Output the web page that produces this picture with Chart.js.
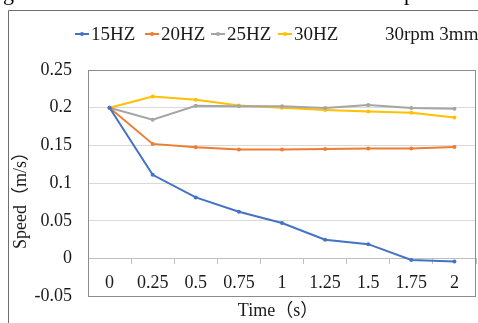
<!DOCTYPE html>
<html>
<head>
<meta charset="utf-8">
<script src="https://cdn.jsdelivr.net/npm/chart.js@4"></script>
<style>
html,body{margin:0;padding:0;background:#fff;}
#wrap{width:478px;height:323px;position:relative;}
</style>
</head>
<body>
<div id="wrap"><canvas id="c" width="478" height="323"></canvas></div>
<script>
const categories = ['0', '0.25', '0.5', '0.75', '1', '1.25', '1.5', '1.75', '2'];
const seriesNames = ['15HZ', '20HZ', '25HZ', '30HZ'];
const s15 = [0.200, 0.111, 0.081, 0.062, 0.047, 0.025, 0.019, -0.002, -0.004];
const s20 = [0.200, 0.152, 0.1475, 0.1445, 0.1445, 0.1453, 0.146, 0.146, 0.148];
const s25 = [0.200, 0.184, 0.2026, 0.202, 0.202, 0.1996, 0.2035, 0.1996, 0.1987];
const s30 = [0.200, 0.2149, 0.2105, 0.203, 0.200, 0.197, 0.195, 0.1934, 0.187];
const yTicks = [-0.05, 0, 0.05, 0.1, 0.15, 0.2, 0.25];
const yTitle = 'Speed（m/s）';
const xTitle = 'Time（s）';
const noteText = '30rpm 3mm';
const colors = ['#4472C4', '#ED7D31', '#A5A5A5', '#FFC000'];

const FONT = '"Liberation Serif", "Times New Roman", "Noto Sans CJK SC", serif';

const values = [s15, s20, s25, s30];
const datasets = values.map((v, i) => ({
  label: seriesNames[i],
  data: v,
  borderColor: colors[i],
  backgroundColor: colors[i],
  borderWidth: 2,
  pointRadius: 2,
  pointHoverRadius: 2,
  pointBorderWidth: 0,
  tension: 0,
  fill: false
}));

const decor = {
  id: 'decor',
  beforeDatasetsDraw(chart) {
    const ctx = chart.ctx, a = chart.chartArea;
    ctx.save();
    ctx.strokeStyle = '#8c8c8c';
    ctx.lineWidth = 1;
    ctx.strokeRect(Math.round(a.left) + 0.5, Math.round(a.top) + 0.5,
      Math.round(a.right) - Math.round(a.left) - 1, Math.round(a.bottom) - Math.round(a.top));
    ctx.restore();
  },
  afterDraw(chart) {
    const ctx = chart.ctx;
    ctx.save();
    // outer chart frame
    ctx.strokeStyle = '#6e6e6e';
    ctx.lineWidth = 1;
    ctx.beginPath();
    ctx.moveTo(8.5, 330);
    ctx.lineTo(8.5, 10.5);
    ctx.lineTo(490, 10.5);
    ctx.stroke();
    // caption fragments above the frame
    ctx.fillStyle = '#000';
    ctx.font = '22px ' + FONT;
    ctx.textBaseline = 'alphabetic';
    ctx.textAlign = 'left';
    ctx.fillText('g', 3, 0);
    ctx.fillText('p', 404, 0);
    // legend
    ctx.font = '19px ' + FONT;
    ctx.textBaseline = 'middle';
    const ly = 34;
    const starts = [75, 145, 211, 278];
    chart.data.datasets.forEach((ds, i) => {
      const x0 = starts[i];
      ctx.strokeStyle = ds.borderColor;
      ctx.lineWidth = 2;
      ctx.beginPath();
      ctx.moveTo(x0, ly);
      ctx.lineTo(x0 + 14, ly);
      ctx.stroke();
      ctx.fillStyle = ds.borderColor;
      ctx.beginPath();
      ctx.arc(x0 + 7, ly, 2, 0, Math.PI * 2);
      ctx.fill();
      ctx.fillStyle = '#1a1a1a';
      ctx.fillText(ds.label, x0 + 16, ly + 1);
    });
    ctx.fillText(noteText, 385, ly + 1);
    // axis titles
    ctx.font = '18px ' + FONT;
    ctx.fillStyle = '#1a1a1a';
    ctx.textAlign = 'center';
    ctx.fillText(xTitle, 278, 311);
    ctx.translate(21, 196);
    ctx.rotate(-Math.PI / 2);
    ctx.fillText(yTitle, 0, 0);
    ctx.restore();
  }
};

new Chart(document.getElementById('c'), {
  type: 'line',
  data: { labels: categories, datasets },
  options: {
    responsive: false,
    animation: false,
    events: [],
    layout: { padding: { left: 0, right: 1, top: 70, bottom: 26 } },
    plugins: { legend: { display: false }, tooltip: { enabled: false }, title: { display: false } },
    scales: {
      x: {
        type: 'category',
        position: { y: 0 },
        offset: true,
        grid: {
          offset: true,
          drawOnChartArea: false,
          drawTicks: true,
          tickLength: 5,
          color: '#bfbfbf'
        },
        border: { display: true, color: '#bfbfbf', width: 1 },
        ticks: {
          padding: 9,
          color: '#1a1a1a',
          font: { family: FONT, size: 18 },
          maxRotation: 0,
          autoSkip: false
        }
      },
      y: {
        min: -0.05,
        max: 0.25,
        afterFit(scale) { scale.width = 88; },
        afterBuildTicks(scale) { scale.ticks = yTicks.map(v => ({ value: v })); },
        grid: { drawTicks: false, color: '#d9d9d9' },
        border: { display: false },
        ticks: {
          padding: 16,
          color: '#1a1a1a',
          font: { family: FONT, size: 18 },
          callback: (v) => String(Math.round(v * 100) / 100)
        }
      }
    }
  },
  plugins: [decor]
});
</script>
</body>
</html>
